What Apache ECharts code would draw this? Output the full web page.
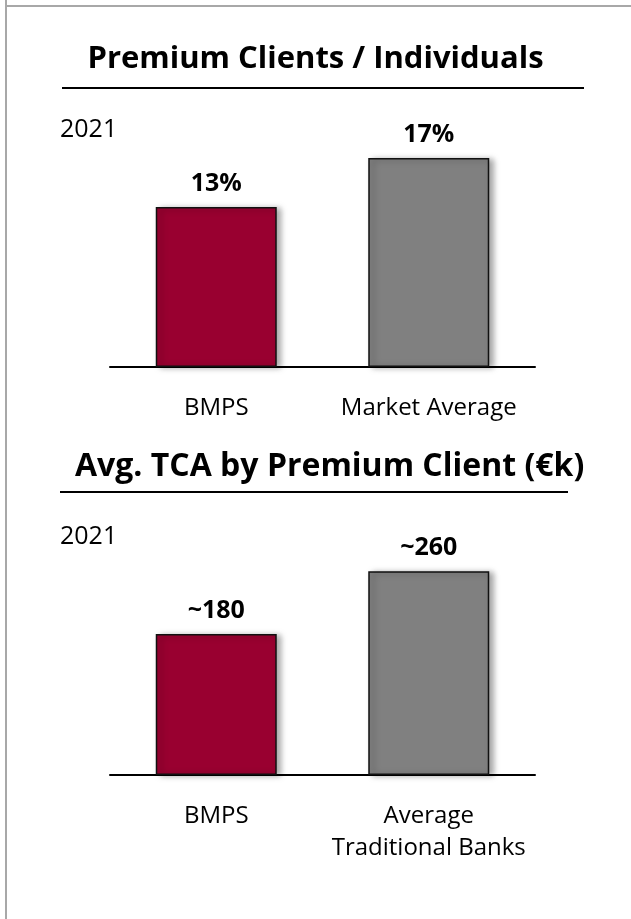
<!DOCTYPE html>
<html lang="en">
<head>
    <meta charset="UTF-8">
    <title>Premium Clients</title>
    <script src="https://cdn.jsdelivr.net/npm/echarts@6/dist/echarts.min.js"></script>
    <style>
        body { margin: 0; background: #fff; }
        #chart { width: 631px; height: 919px; }
    </style>
</head>
<body>
    <div id="chart"></div>
    <script>
        // data
        const shareCats = ['BMPS', 'Market Average'];
        const shareValues = [13, 17];
        const tcaCats = ['BMPS', 'Average\nTraditional Banks'];
        const tcaValues = [180, 260];
        const barColors = ['#990030', '#808080'];

        const font = '"Open Sans", "Noto Sans", sans-serif';
        const chart = echarts.init(document.getElementById('chart'));

        function bars(values, axisIdx, fmt) {
            return {
                type: 'bar',
                xAxisIndex: axisIdx,
                yAxisIndex: axisIdx,
                barWidth: 121,
                data: values.map((v, i) => ({
                    value: v,
                    itemStyle: { color: barColors[i] }
                })),
                itemStyle: {
                    borderColor: '#111',
                    borderWidth: 1.5,
                    shadowColor: 'rgba(0,0,0,0.35)',
                    shadowBlur: 6,
                    shadowOffsetX: 4,
                    shadowOffsetY: 1
                },
                label: {
                    show: true,
                    position: 'top',
                    distance: 11,
                    formatter: fmt,
                    fontFamily: font,
                    fontWeight: 'bold',
                    fontSize: 25,
                    color: '#000'
                }
            };
        }

        function catAxis(cats, idx) {
            return {
                type: 'category',
                gridIndex: idx,
                data: cats,
                axisTick: { show: false },
                axisLine: { lineStyle: { color: '#000', width: 2 } },
                axisLabel: {
                    interval: 0,
                    hideOverlap: false,
                    margin: 25,
                    fontFamily: font,
                    fontSize: 24,
                    color: '#000',
                    lineHeight: 32
                }
            };
        }

        function valAxis(max, idx) {
            return {
                type: 'value',
                gridIndex: idx,
                min: 0,
                max: max,
                show: false
            };
        }

        const option = {
            animation: false,
            title: [
                {
                    text: 'Premium Clients / Individuals',
                    left: 'center', top: 39,
                    textStyle: { fontFamily: font, fontWeight: 'bold', fontSize: 31, color: '#000' }
                },
                {
                    text: 'Avg. TCA by Premium Client (€k)',
                    left: 70, top: 446,
                    textStyle: { fontFamily: font, fontWeight: 'bold', fontSize: 32, color: '#000' }
                }
            ],
            grid: [
                { left: 110, width: 425, top: 121, height: 246 },
                { left: 110, width: 425, top: 540, height: 235 }
            ],
            xAxis: [catAxis(shareCats, 0), catAxis(tcaCats, 1)],
            yAxis: [valAxis(20, 0), valAxis(300, 1)],
            series: [
                bars(shareValues, 0, p => p.value + '%'),
                bars(tcaValues, 1, p => '~' + p.value)
            ],
            graphic: [
                { type: 'line', shape: { x1: 6, y1: 0, x2: 6, y2: 919 }, style: { stroke: '#a8a8a8', lineWidth: 2 } },
                { type: 'line', shape: { x1: 5, y1: 6, x2: 631, y2: 6 }, style: { stroke: '#a8a8a8', lineWidth: 2 } },
                { type: 'line', shape: { x1: 62, y1: 88, x2: 584, y2: 88 }, style: { stroke: '#000', lineWidth: 2 } },
                { type: 'line', shape: { x1: 60, y1: 492, x2: 568, y2: 492 }, style: { stroke: '#000', lineWidth: 2 } },
                { type: 'text', x: 60, y: 130, style: { text: '2021', font: '25px ' + font, fill: '#000', textVerticalAlign: 'middle' } },
                { type: 'text', x: 60, y: 537, style: { text: '2021', font: '25px ' + font, fill: '#000', textVerticalAlign: 'middle' } }
            ]
        };

        chart.setOption(option);
    </script>
</body>
</html>
